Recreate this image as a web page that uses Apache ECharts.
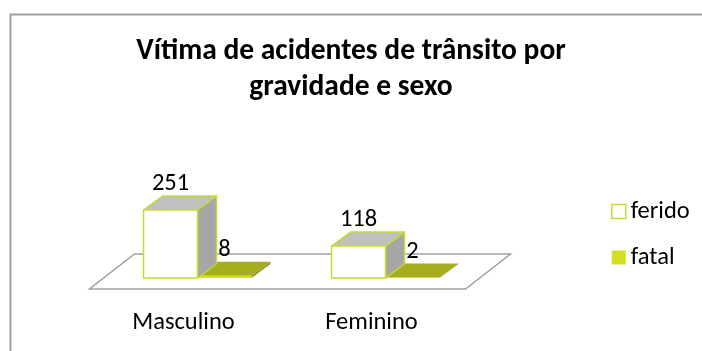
<!DOCTYPE html>
<html>
<head>
<meta charset="utf-8">
<script src="https://cdn.jsdelivr.net/npm/echarts@6/dist/echarts.min.js"></script>
<style>
  html, body { margin: 0; padding: 0; background: #fff; }
  #chart { width: 702px; height: 351px; }
</style>
</head>
<body>
<div id="chart"></div>
<script>
// Chart data
const categories = ['Masculino', 'Feminino'];
const feridoValues = [251, 118];
const fatalValues = [8, 2];
const seriesNames = ['ferido', 'fatal'];

const FONT = 'Carlito, Lato, "Open Sans", sans-serif';

// Pseudo-3D geometry (pixels)
const FLOOR_DEPTH = [45, -35];   // full depth of the floor
const BAR_OFFSET = [14, -11];    // where the bar row sits inside the floor
const BAR_DEPTH = [19, -14];     // thickness of each box
const BAR_FRACTION = 0.287;      // bar width as share of category band

const styles = {
  ferido: { front: '#ffffff', top: '#c0c0c0', side: '#a6a6a6', stroke: '#c9d933', lineWidth: 1.5 },
  fatal:  { front: '#d2df22', top: '#a3ad1e', side: '#8c9418', stroke: null, lineWidth: 0 }
};

function renderFloor(params, api) {
  const cs = params.coordSys;
  const x0 = cs.x, x1 = cs.x + cs.width, yb = cs.y + cs.height;
  return {
    type: 'polygon',
    shape: { points: [
      [x0, yb], [x1, yb],
      [x1 + FLOOR_DEPTH[0], yb + FLOOR_DEPTH[1]],
      [x0 + FLOOR_DEPTH[0], yb + FLOOR_DEPTH[1]]
    ] },
    style: { fill: '#ffffff', stroke: '#a0a0a0', lineWidth: 1.5 },
    z2: 0
  };
}

function makeBoxRenderer(kind, slot) {
  const st = styles[kind];
  return function (params, api) {
    const cat = api.value(0);
    const val = api.value(1);
    const base = api.coord([cat, 0]);
    const band = api.size([1, 0])[0];
    const w = band * BAR_FRACTION;
    const h = api.size([0, val])[1];
    const x0 = base[0] + (slot === 0 ? -w : 0) + BAR_OFFSET[0];
    const yb = base[1] + BAR_OFFSET[1];
    const yt = yb - h;
    const dx = BAR_DEPTH[0], dy = BAR_DEPTH[1];
    const common = { stroke: st.stroke, lineWidth: st.lineWidth, lineJoin: 'round' };
    return {
      type: 'group',
      children: [
        { type: 'polygon', shape: { points: [[x0 + w, yb], [x0 + w, yt], [x0 + w + dx, yt + dy], [x0 + w + dx, yb + dy]] },
          style: Object.assign({ fill: st.side }, common) },
        { type: 'polygon', shape: { points: [[x0, yt], [x0 + w, yt], [x0 + w + dx, yt + dy], [x0 + dx, yt + dy]] },
          style: Object.assign({ fill: st.top }, common) },
        { type: 'rect', shape: { x: x0, y: yt, width: w, height: Math.max(h, 0.5) },
          style: Object.assign({ fill: st.front }, common) },
        { type: 'text', x: x0 + w / 2, y: yt - 26,
          style: { text: String(val), fontSize: 24.5, fontFamily: FONT, fill: '#000',
                   align: 'center', verticalAlign: 'middle' } }
      ]
    };
  };
}

const chart = echarts.init(document.getElementById('chart'), null, { renderer: 'canvas' });
chart.setOption({
  animation: false,
  backgroundColor: '#ffffff',
  graphic: [{
    type: 'rect', left: 8, top: 12, z: -10,
    shape: { x: 0, y: 0, width: 720, height: 360 },
    style: { fill: 'none', stroke: '#a0a0a0', lineWidth: 2 }
  }],
  title: {
    text: 'Vítima de acidentes de trânsito por\ngravidade e sexo',
    left: 'center', top: 29,
    textStyle: { fontFamily: FONT, fontWeight: 'bold', fontSize: 29.5, lineHeight: 36, color: '#000' }
  },
  legend: {
    orient: 'vertical', left: 606, top: 194, itemGap: 21,
    itemWidth: 14, itemHeight: 14, icon: 'rect',
    textStyle: { fontFamily: FONT, fontSize: 24.5, color: '#000' },
    data: [
      { name: seriesNames[0], itemStyle: { color: '#ffffff', borderColor: '#c9d933', borderWidth: 1.5 } },
      { name: seriesNames[1], itemStyle: { color: '#d2df22', borderWidth: 0 } }
    ]
  },
  grid: { left: 89.5, width: 376, top: 207.7, bottom: 62 },
  xAxis: {
    type: 'category', data: categories,
    axisLine: { show: false }, axisTick: { show: false },
    axisLabel: { margin: 21, fontFamily: FONT, fontSize: 24.5, color: '#000' }
  },
  yAxis: { type: 'value', min: 0, max: 300, show: false, splitLine: { show: false } },
  series: [
    { type: 'custom', name: '_floor', data: [[0, 0]], renderItem: renderFloor, z: 1, silent: true },
    { type: 'custom', name: seriesNames[0], z: 3,
      data: feridoValues.map((v, i) => [i, v]), renderItem: makeBoxRenderer('ferido', 0),
      itemStyle: { color: '#ffffff', borderColor: '#c9d933' } },
    { type: 'custom', name: seriesNames[1], z: 2,
      data: fatalValues.map((v, i) => [i, v]), renderItem: makeBoxRenderer('fatal', 1),
      itemStyle: { color: '#d2df22' } }
  ]
});
</script>
</body>
</html>
